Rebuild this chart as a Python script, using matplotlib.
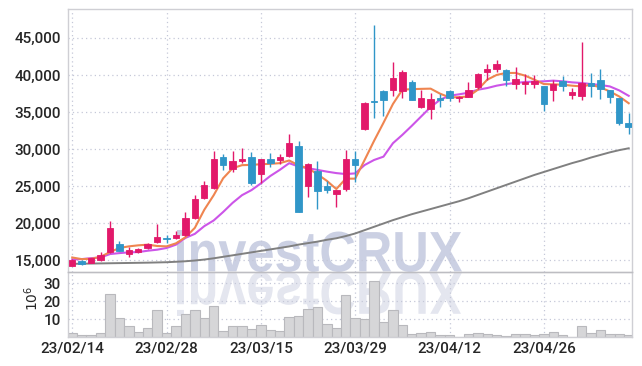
import numpy as np
import matplotlib
matplotlib.use("Agg")
from matplotlib import pyplot as plt
from matplotlib.textpath import TextPath
from matplotlib.patches import PathPatch
from matplotlib.font_manager import FontProperties
from matplotlib.transforms import Affine2D

# daily prices (KRW)
opens = [14250, 14950, 14600, 15000, 16100, 17230, 15820, 16090, 16640, 17500,
         18000, 17950, 18410, 20640, 23450, 24680, 28950, 27320, 28410, 28950,
         26590, 28680, 28550, 29090, 30450, 25050, 27050, 25000, 23950, 24600,
         28610, 32720, 36450, 37880, 38010, 37790, 39100, 35660, 35390, 36840,
         37880, 36880, 37050, 38320, 40360, 40820, 40730, 38770, 38770, 38730,
         38450, 37910, 39230, 37270, 37140, 38950, 39360, 37950, 36910, 33550]
highs = [15200, 15050, 15350, 16100, 20250, 17650, 16730, 16640, 17270, 19820,
         18450, 18900, 21500, 23770, 25730, 29730, 29360, 29730, 30140, 29590,
         28700, 29450, 29270, 32050, 31050, 28050, 28320, 25680, 24500, 29870,
         29740, 36300, 46690, 38010, 41760, 40720, 39320, 37920, 37560, 37420,
         37920, 37150, 39050, 40200, 41500, 42000, 40750, 41090, 40090, 40050,
         38500, 39270, 39820, 38230, 44400, 40270, 40860, 38000, 36950, 34910]
lows = [14150, 14400, 14550, 14950, 16000, 16180, 15360, 15950, 16550, 17360,
        17270, 17860, 18320, 20500, 23320, 24550, 27140, 26950, 28090, 25140,
        25450, 27640, 27950, 28950, 21500, 23550, 21950, 24090, 22180, 24300,
        25600, 32590, 34120, 34390, 37200, 36930, 36560, 35520, 34080, 35660,
        36470, 36290, 37000, 38140, 39360, 40360, 38550, 38090, 37410, 38230,
        35090, 36500, 37770, 36770, 36640, 37000, 36770, 36180, 33230, 32000]
closes = [15050, 14450, 15270, 15730, 19400, 16270, 16360, 16450, 17140, 18090,
          17800, 18450, 20640, 23230, 25200, 28680, 27910, 28410, 28680, 25450,
          28680, 28090, 28950, 30860, 21500, 28000, 24360, 24450, 24450, 28610,
          27840, 36250, 36350, 36560, 39640, 40450, 36560, 36880, 36750, 36610,
          36930, 37060, 38000, 40180, 40860, 41500, 39270, 39450, 39090, 39140,
          36140, 38820, 38450, 37730, 38950, 38550, 38090, 37000, 33550, 33000]

# moving average lines
ma_short = [15360, 15140, 15180, 15450, 16090, 16640, 16860, 17000, 17090, 16910,
            16860, 17270, 18090, 19360, 21800, 23770, 26050, 27410, 27820, 27860,
            27950, 28000, 28090, 28450, 27800, 27400, 26600, 25700, 24600, 26000,
            26000, 28520, 31100, 33540, 36070, 38010, 38080, 38120, 38150, 37470,
            36970, 37000, 37090, 38000, 39360, 40000, 40270, 40270, 39910, 39360,
            38770, 38730, 38680, 38550, 38450, 38680, 38320, 37770, 37090, 36180]
ma_mid = [15090, 15140, 15270, 15360, 15820, 15950, 16050, 16090, 16270, 16410,
          16640, 17090, 18000, 18550, 19590, 20360, 21500, 22730, 23770, 24450,
          25360, 26360, 27180, 28090, 27640, 27410, 27180, 26950, 26750, 26620,
          26710, 27840, 28520, 28970, 30780, 31910, 33130, 34400, 35660, 36650,
          37200, 37380, 37600, 38000, 38230, 38550, 38770, 38910, 39050, 39090,
          39140, 39230, 39140, 39000, 38910, 38770, 38640, 38450, 37910, 37180]
ma_long = [14500, 14520, 14540, 14560, 14580, 14600, 14620, 14640, 14660, 14690,
           14720, 14780, 14850, 14950, 15080, 15250, 15450, 15650, 15850, 16050,
           16250, 16450, 16650, 16850, 17100, 17300, 17500, 17750, 17950, 18250,
           18600, 19050, 19500, 19950, 20400, 20800, 21200, 21550, 21900, 22250,
           22600, 22950, 23350, 23800, 24250, 24700, 25150, 25600, 26050, 26500,
           26900, 27300, 27700, 28100, 28450, 28850, 29200, 29550, 29850, 30100]

# volume in millions of shares
volume = [2.3, 1.3, 1.3, 2.3, 24, 10.5, 6.1, 2.9, 5, 14.8,
          2.3, 6.1, 12.6, 14.8, 10.5, 17.5, 3.4, 6.1, 6.1, 4.5,
          6.7, 4, 3.4, 11, 12, 15.9, 17, 7.2, 5, 23.4,
          10.5, 9.9, 31.5, 8.5, 15.3, 6.7, 1.8, 2.3, 2.9, 1.3,
          1.3, 0.2, 1.8, 2.3, 1.8, 1.3, 0.7, 1.8, 1.8, 1.3,
          1.8, 2.9, 1.3, 0.2, 6.1, 2.3, 4, 1.8, 1.8, 1.3]

date_ticks = [0, 10, 20, 30, 40, 50]
date_labels = ["23/02/14", "23/02/28", "23/03/15", "23/03/29", "23/04/12", "23/04/26"]
price_ticks = [15000, 20000, 25000, 30000, 35000, 40000, 45000]
vol_ticks = [10, 20, 30]

UP = "#e2196a"
DOWN = "#3096c8"
GRID = "#c5c8d8"
SPINE = "#cfcfd4"
TXT = "#262626"
tick_font = ["Roboto", "DejaVu Sans"]

fig = plt.figure(figsize=(6.42, 3.66), dpi=100)
fig.patch.set_facecolor("white")
ax = fig.add_axes([68 / 642, 1 - 272 / 366, 564 / 642, 263 / 366])
axv = fig.add_axes([68 / 642, 1 - 337 / 366, 564 / 642, 65 / 366], sharex=ax)
for a in (ax, axv):
    a.set_facecolor("none")
    for s in a.spines.values():
        s.set_color(SPINE)
        s.set_linewidth(1)
    a.grid(True, color=GRID, linestyle=(0, (1, 2.5)), linewidth=0.9)
    a.tick_params(length=0, colors=TXT, pad=5)
    a.set_axisbelow(True)

x = np.arange(len(opens))
o = np.array(opens)
c = np.array(closes)
up = c >= o
colors = np.where(up, UP, DOWN)

ax.vlines(x, lows, highs, colors=colors, linewidth=1.0, zorder=3)
ax.bar(x, np.maximum(np.abs(c - o), 60), bottom=np.minimum(o, c), width=0.68,
       color=colors, edgecolor=colors, linewidth=0.6, zorder=4)
ax.plot(x, ma_long, color="#808080", linewidth=1.4, zorder=2)
ax.plot(x, ma_mid, color="#cc55e8", linewidth=1.5, zorder=2)
ax.plot(x, ma_short, color="#ef8550", linewidth=1.5, zorder=2)

ax.set_xlim(-0.45, 59.35)
ax.set_ylim(13400, 48900)
ax.set_yticks(price_ticks)
ax.set_yticklabels([f"{v:,}" for v in price_ticks], family=tick_font, fontsize=11,
                   fontweight="medium")
ax.set_xticks(date_ticks)
plt.setp(ax.get_xticklabels(), visible=False)

axv.bar(x, volume, width=1.0, color="#d6d6d8", edgecolor="#b9b9bd", linewidth=0.8, zorder=2)
axv.set_ylim(0, 36.3)
axv.set_yticks(vol_ticks)
axv.set_yticklabels([str(v) for v in vol_ticks], family=tick_font, fontsize=11,
                    fontweight="medium")
axv.set_xticks(date_ticks)
axv.set_xticklabels(date_labels, family=tick_font, fontsize=11, fontweight="medium")
axv.tick_params(axis="x", pad=3)
axv.spines["top"].set_color("#bdbdc2")
fig.text(32 / 642, 1 - 298 / 366, r"$10^6$", rotation=90, ha="center", va="center",
         fontsize=10, color=TXT)

# watermark and its reflection
tp = TextPath((0, 0), "investCRUX", size=100,
              prop=FontProperties(family="Liberation Sans", weight="bold"))
bb = tp.get_extents()
W, H = 642.0, 366.0
x0, x1 = 177, 462
top, base, refl = 230, 272, 316
sx = (x1 - x0) / bb.width / W
sy = (base - top) / bb.height / H
tr = Affine2D().translate(-bb.x0, -bb.y0).scale(sx, sy).translate(x0 / W, 1 - base / H)
fig.add_artist(PathPatch(tr.transform_path(tp), facecolor="#cbd0e3", edgecolor="none",
                         transform=fig.transFigure, zorder=-1))
sy2 = (refl - base) / bb.height / H
tr2 = Affine2D().translate(-bb.x0, -bb.y0).scale(sx, -sy2).translate(x0 / W, 1 - base / H)
fig.add_artist(PathPatch(tr2.transform_path(tp), facecolor="#e4e6ef", edgecolor="none",
                         transform=fig.transFigure, zorder=-1))

fig.savefig("out.png", dpi=100, facecolor="white")
